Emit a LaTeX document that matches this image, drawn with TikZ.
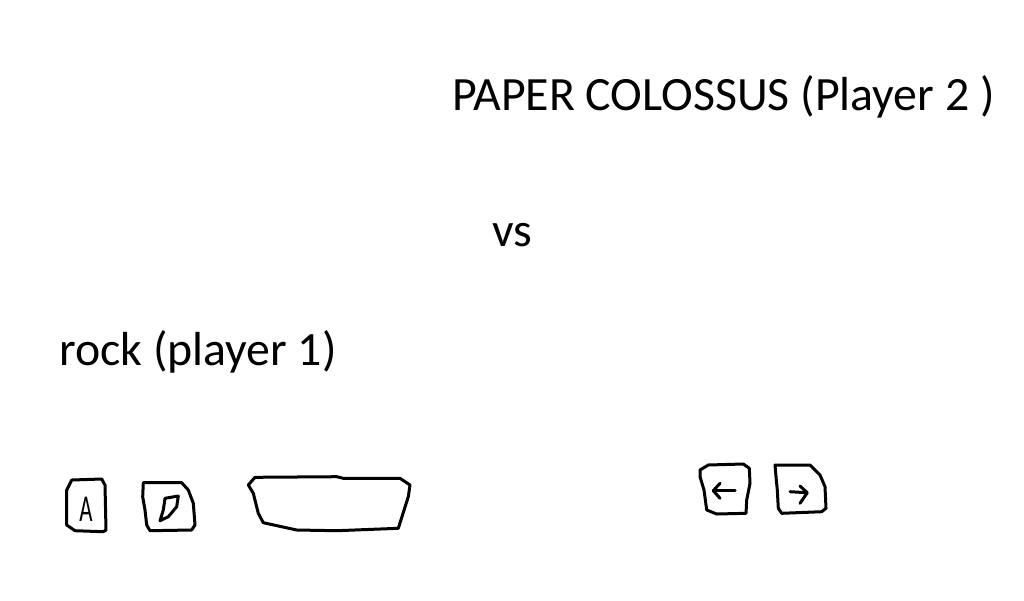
\documentclass[tikz,border=0pt]{standalone}
\usepackage{fontspec}
\setmainfont{Carlito}
\begin{document}
\begin{tikzpicture}[x=1pt,y=-1pt,
  hand/.style={line width=3pt,line join=round,line cap=round},
  bigtext/.style={anchor=base west,inner sep=0pt,font=\fontsize{47.8}{56}\selectfont}]
\useasboundingbox[fill=white] (0,0) rectangle (1024,600);
\node[bigtext] (title) at (452,110) {PAPER COLOSSUS (Player 2 )};
\node[bigtext] (vs) at (492,246) {vs};
\node[bigtext] (rock) at (59,365) {rock (player 1)};
% box A
\draw[hand] (71.7,480) -- (101.7,479) -- (105,485) -- (106,530) -- (103.3,531.7) -- (75,530.7) -- (66.7,525) -- (66.7,490) -- cycle;
\node[inner sep=0pt,font=\fontsize{38}{38}\selectfont] (a) at (86,509) {\scalebox{0.6}[1]{A}};
% box rock
\draw[hand] (143.3,482.7) -- (181.7,482.7) -- (188.3,490) -- (193.3,503.3) -- (195,525) -- (191.7,530) -- (150,530.7) -- (146.7,525) -- (145,510) -- (142.7,496.7) -- cycle;
\draw[hand] (165,498.3) -- (178.3,496) -- (176.7,506.7) -- (168.3,516.7) -- (160,520.7) -- (163.3,510) -- cycle;
% big box
\draw[hand] (248.3,485) -- (255,477.3) -- (336.7,476.7) -- (343.3,478.3) -- (400,478.3) -- (410,485) -- (408.3,496.7) -- (398.3,528.3) -- (336.7,530.7) -- (296.7,530) -- (263.3,522.7) -- (258.3,513.3) -- (253.3,493.3) -- cycle;
% left arrow box
\draw[hand] (700,470) -- (708.3,465) -- (743.3,464) -- (749.3,468.3) -- (750,483.3) -- (746.7,500) -- (746,513.3) -- (716.7,514) -- (706.7,510) -- (704,490) -- (700,476.7) -- cycle;
\draw[hand] (713.3,490.7) -- (735,490.7);
\draw[hand] (720,483.3) -- (713.3,490.7) -- (720,498.3);
% right arrow box
\draw[hand] (775,465) -- (810,465) -- (820,475) -- (825,486.7) -- (826,508.3) -- (821.7,511.7) -- (781.7,513.3) -- (778.3,508.3) -- (777.3,490) -- (776,476.7) -- cycle;
\draw[hand] (790,491.7) -- (806.7,492.7);
\draw[hand] (800,486) -- (807.3,492.7) -- (800,503.3);
\end{tikzpicture}
\end{document}
